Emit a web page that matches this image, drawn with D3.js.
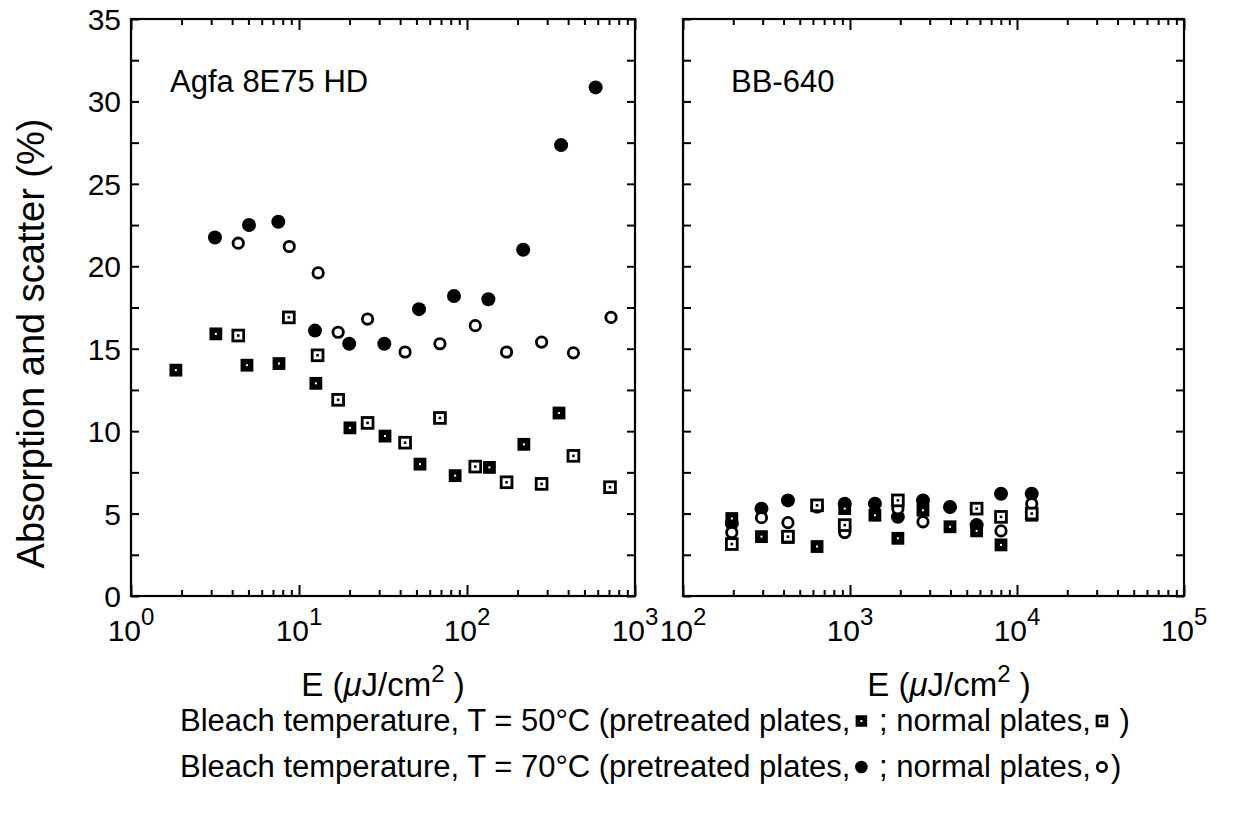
<!DOCTYPE html>
<html>
<head>
<meta charset="utf-8">
<script src="https://cdn.jsdelivr.net/npm/d3@7"></script>
<style>
  body { margin: 0; background: #fff; }
  text { font-family: "Liberation Sans", Arial, Helvetica, sans-serif; fill: #000; }
</style>
</head>
<body>
<div id="chart"></div>
<script>
// ---- data: [E (uJ/cm2), absorption and scatter (%)] ----
// Agfa 8E75 HD
const agfaPre50 = [[1.85,13.7],[3.2,15.9],[4.9,14.0],[7.6,14.1],[12.6,12.9],[20.1,10.2],[32.5,9.7],[52.5,8.0],[85,7.3],[136,7.8],[218,9.2],[353,11.1]];
const agfaNorm50 = [[4.35,15.8],[8.7,16.9],[12.9,14.6],[17.1,11.9],[25.6,10.5],[42.8,9.3],[69,10.8],[112,7.85],[172,6.9],[278,6.8],[430,8.5],[710,6.6]];
const agfaPre70 = [[3.16,21.75],[5.04,22.5],[7.53,22.7],[12.45,16.1],[19.9,15.3],[32.2,15.3],[51.8,17.4],[83.7,18.2],[134,18.0],[216,21.0],[363,27.35],[583,30.85]];
const agfaNorm70 = [[4.35,21.4],[8.75,21.2],[13.0,19.6],[17.1,16.0],[25.6,16.8],[42.8,14.8],[69,15.3],[112,16.4],[172,14.8],[278,15.4],[430,14.75],[720,16.9]];
// BB-640
const bbPre50 = [[196,4.7],[295,3.6],[425,3.55],[635,3.0],[930,5.3],[1410,4.9],[1935,3.5],[2735,5.2],[3970,4.2],[5730,3.95],[8020,3.1],[12250,4.9]];
const bbNorm50 = [[196,3.15],[425,3.6],[635,5.5],[930,4.3],[1935,5.8],[5730,5.3],[8020,4.8],[12250,5.0]];
const bbPre70 = [[196,4.4],[295,5.3],[425,5.8],[930,5.6],[1410,5.6],[1935,4.8],[2735,5.8],[3970,5.4],[5730,4.3],[8020,6.2],[12250,6.2]];
const bbNorm70 = [[196,3.85],[295,4.75],[425,4.45],[635,5.4],[930,3.85],[1935,5.3],[2735,4.5],[8020,3.95],[12250,5.6]];

const yTicks = d3.range(0, 35.01, 2.5);
const yLabels = [0, 5, 10, 15, 20, 25, 30, 35];
const panelNames = ["Agfa 8E75 HD", "BB-640"];
const legendLines = [
  ["Bleach temperature, T = 50\u00B0C (pretreated plates,", "pre50", " ; normal plates,", "norm50", " )"],
  ["Bleach temperature, T = 70\u00B0C (pretreated plates,", "pre70", " ; normal plates,", "norm70", ")"]
];

const W = 1234, H = 813;
const plotTop = 19, plotBottom = 596;

const svg = d3.select("#chart").append("svg")
    .attr("width", W)
    .attr("height", H);

// one y scale shared by both panels
const y = d3.scaleLinear().domain([0, 35]).range([plotBottom, plotTop]);

const panels = [
  {name: panelNames[0], x0: 131, x1: 635, dom: [1, 1000], series: [agfaPre70, agfaPre50, agfaNorm70, agfaNorm50], labelX: 383},
  {name: panelNames[1], x0: 683, x1: 1184, dom: [100, 100000], series: [bbPre70, bbPre50, bbNorm70, bbNorm50], labelX: 949}
];
const kinds = ["pre70", "pre50", "norm70", "norm50"];

function drawMarker(g, kind, cx, cy, s) {
  s = s || 1;
  if (kind === "pre70") {
    g.append("circle").attr("cx", cx).attr("cy", cy).attr("r", 7 * s).attr("fill", "#000");
  } else if (kind === "norm70") {
    g.append("circle").attr("cx", cx).attr("cy", cy).attr("r", 5.2 * s).attr("fill", "#fff")
      .attr("stroke", "#000").attr("stroke-width", 2.8);
  } else if (kind === "pre50") {
    const h = 6.4 * s;
    g.append("rect").attr("x", cx - h).attr("y", cy - h).attr("width", 2 * h).attr("height", 2 * h).attr("fill", "#000");
    g.append("rect").attr("x", cx - 1).attr("y", cy - 1).attr("width", 2).attr("height", 2).attr("fill", "#fff");
  } else {
    const h = 5.4 * s;
    g.append("rect").attr("x", cx - h).attr("y", cy - h).attr("width", 2 * h).attr("height", 2 * h).attr("fill", "#fff")
      .attr("stroke", "#000").attr("stroke-width", 2.8);
    g.append("rect").attr("x", cx - 1.3).attr("y", cy - 1.3).attr("width", 2.6).attr("height", 2.6).attr("fill", "#000");
  }
}

panels.forEach(function(p, pi) {
  const x = d3.scaleLog().domain(p.dom).range([p.x0, p.x1]);
  const g = svg.append("g");

  // minor and major log ticks
  const majors = [];
  const minors = [];
  for (let e = Math.log10(p.dom[0]); e < Math.log10(p.dom[1]); e++) {
    majors.push(Math.pow(10, e));
    for (let k = 2; k <= 9; k++) minors.push(k * Math.pow(10, e));
  }
  majors.push(p.dom[1]);

  g.append("g").attr("transform", "translate(0," + plotBottom + ")")
    .call(d3.axisBottom(x).tickValues(minors).tickSize(-6).tickFormat(""));
  g.append("g").attr("transform", "translate(0," + plotBottom + ")")
    .call(d3.axisBottom(x).tickValues(majors).tickSize(-11).tickFormat(""));
  g.append("g").attr("transform", "translate(0," + plotTop + ")")
    .call(d3.axisTop(x).tickValues(minors).tickSize(-6).tickFormat(""));
  g.append("g").attr("transform", "translate(0," + plotTop + ")")
    .call(d3.axisTop(x).tickValues(majors).tickSize(-11).tickFormat(""));

  g.append("g").attr("transform", "translate(" + p.x0 + ",0)")
    .call(d3.axisLeft(y).tickValues(yTicks).tickSize(-8).tickFormat(""));
  g.append("g").attr("transform", "translate(" + p.x1 + ",0)")
    .call(d3.axisRight(y).tickValues(yTicks).tickSize(-8).tickFormat(""));

  g.selectAll(".domain").remove();
  g.selectAll(".tick line").attr("stroke", "#000").attr("stroke-width", 2);

  // frame
  g.append("rect")
    .attr("x", p.x0).attr("y", plotTop)
    .attr("width", p.x1 - p.x0).attr("height", plotBottom - plotTop)
    .attr("fill", "none").attr("stroke", "#000").attr("stroke-width", 2.2);

  // x tick labels 10^n
  majors.forEach(function(v) {
    const t = g.append("text")
      .attr("x", x(v)).attr("y", 641)
      .attr("text-anchor", "middle")
      .style("font-size", "30px");
    t.append("tspan").text("10");
    t.append("tspan").attr("dy", -16).style("font-size", "24px").text(Math.round(Math.log10(v)));
  });

  // y tick labels only on the left panel
  if (pi === 0) {
    yLabels.forEach(function(v) {
      g.append("text")
        .attr("x", p.x0 - 10).attr("y", y(v) + 11)
        .attr("text-anchor", "end")
        .style("font-size", "30px")
        .text(v);
    });
  }

  // x axis title
  const xt = g.append("text")
    .attr("x", p.labelX).attr("y", 696)
    .attr("text-anchor", "middle")
    .style("font-size", "33px");
  xt.append("tspan").text("E (");
  xt.append("tspan").style("font-style", "italic").text("\u03BC");
  xt.append("tspan").text("J/cm");
  xt.append("tspan").attr("dy", -14).style("font-size", "24px").text("2");
  xt.append("tspan").attr("dy", 14).text(" )");

  // panel name
  g.append("text")
    .attr("x", pi === 0 ? 170 : 731).attr("y", 92)
    .style("font-size", "31px")
    .text(p.name);

  // markers
  p.series.forEach(function(s, si) {
    s.forEach(function(d) {
      drawMarker(g, kinds[si], x(d[0]), y(d[1]));
    });
  });
});

// y axis title
svg.append("text")
  .attr("transform", "translate(44," + ((plotTop + plotBottom) / 2 + 36) + ") rotate(-90)")
  .attr("text-anchor", "middle")
  .style("font-size", "38px")
  .text("Absorption and scatter (%)");

// legend lines with inline markers
legendLines.forEach(function(parts, li) {
  const baseY = 731 + li * 46;
  let cx = 180;
  const lg = svg.append("g");
  parts.forEach(function(part) {
    if (kinds.indexOf(part) >= 0) {
      drawMarker(lg, part, cx + 11, baseY - 10, 0.9);
      cx += 20;
    } else {
      const t = lg.append("text").attr("x", cx).attr("y", baseY)
        .style("font-size", "31px").attr("xml:space", "preserve")
        .style("white-space", "pre")
        .text(part);
      cx += t.node().getComputedTextLength();
    }
  });
});
</script>
</body>
</html>
